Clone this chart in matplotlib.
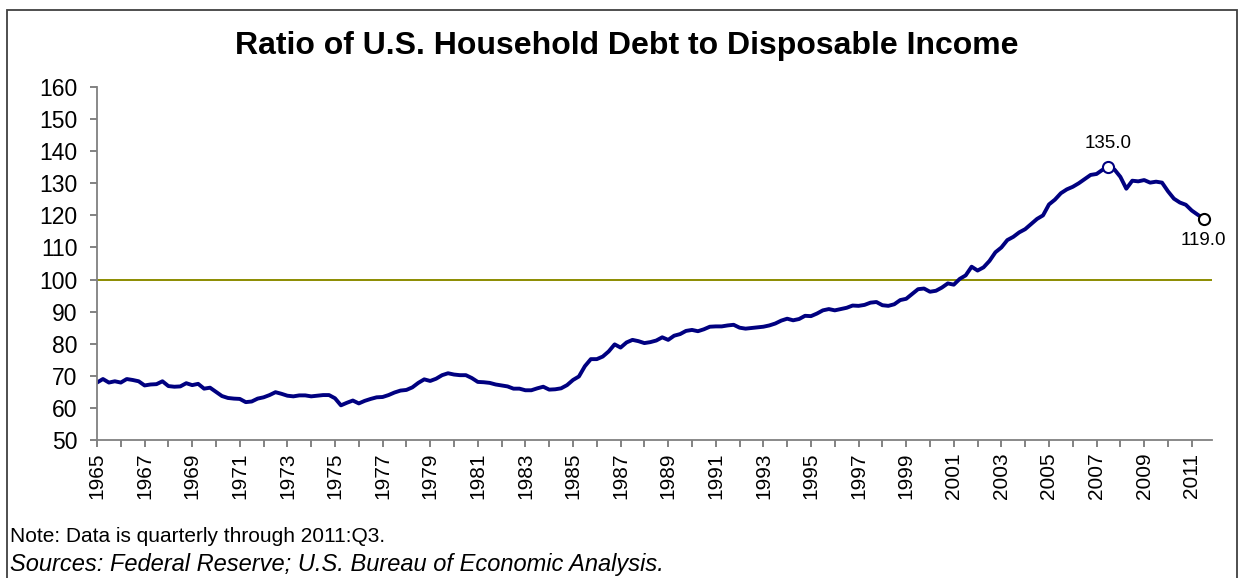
import matplotlib
matplotlib.use("Agg")
import matplotlib.pyplot as plt
import matplotlib.patches as patches
import numpy as np

plt.rcParams["font.family"] = ["Liberation Sans", "DejaVu Sans"]

# Household debt as a percent of disposable income, quarterly 1965:Q1 - 2011:Q3
start_year = 1965
ratio = [
    67.9, 69.0, 67.9, 68.3, 67.9, 69.0, 68.7, 68.3, 67.0, 67.3, 67.4, 68.3,
    66.8, 66.6, 66.7, 67.7, 67.1, 67.5, 66.0, 66.3, 65.0, 63.7, 63.1, 62.9,
    62.8, 61.8, 62.0, 62.9, 63.3, 64.0, 64.9, 64.4, 63.8, 63.6, 63.9, 63.9,
    63.6, 63.8, 64.0, 64.0, 63.0, 60.8, 61.6, 62.3, 61.4, 62.2, 62.8, 63.3,
    63.4, 64.0, 64.8, 65.4, 65.6, 66.4, 67.8, 68.9, 68.4, 69.1, 70.2, 70.8,
    70.4, 70.2, 70.2, 69.3, 68.1, 68.0, 67.8, 67.3, 67.0, 66.7, 66.0, 66.0,
    65.5, 65.5, 66.1, 66.6, 65.7, 65.8, 66.1, 67.1, 68.7, 69.8, 73.0, 75.2,
    75.2, 76.0, 77.6, 79.8, 78.8, 80.4, 81.2, 80.8, 80.2, 80.5, 81.0, 82.0,
    81.2, 82.5, 83.0, 84.0, 84.3, 83.9, 84.5, 85.3, 85.4, 85.4, 85.7, 85.9,
    85.0, 84.7, 84.9, 85.1, 85.3, 85.7, 86.3, 87.2, 87.8, 87.3, 87.7, 88.7,
    88.6, 89.4, 90.4, 90.8, 90.4, 90.8, 91.2, 91.9, 91.8, 92.1, 92.8, 93.0,
    92.0, 91.8, 92.3, 93.6, 94.0, 95.5, 97.0, 97.2, 96.2, 96.5, 97.5, 98.8,
    98.4, 100.2, 101.3, 104.0, 102.8, 103.8, 105.8, 108.5, 110.0, 112.3, 113.3, 114.7,
    115.7, 117.3, 118.9, 120.0, 123.4, 124.9, 126.9, 128.1, 128.9, 130.0, 131.3, 132.6,
    132.9, 134.2, 135.0, 134.3, 132.0, 128.3, 130.8, 130.6, 131.0, 130.2, 130.5, 130.2,
    127.5, 125.2, 124.0, 123.3, 121.5, 120.2, 119.0,
]
peak_label = "135.0"
last_label = "119.0"
reference_level = 100

quarters = start_year + np.arange(len(ratio)) / 4.0
values = np.array(ratio)
peak_idx = int(np.argmax(values))

fig = plt.figure(figsize=(12.44, 5.78), dpi=100)
fig.patch.set_facecolor("white")

# outer frame around the whole chart
fig.patches.append(patches.Rectangle(
    (7 / 1244, -0.05), 1230 / 1244, 1.05 - 10 / 578,
    transform=fig.transFigure, fill=False,
    edgecolor="#404040", linewidth=1.3, zorder=0,
))

ax = fig.add_axes([97 / 1244, 1 - 440 / 578, (1212 - 97) / 1244, (440 - 87) / 578])

ax.axhline(reference_level, color="#8c8c00", linewidth=1.4, zorder=1)
ax.plot(quarters, values, color="#000080", linewidth=2.8,
        solid_joinstyle="round", zorder=2)

# highlighted points
ax.plot(quarters[peak_idx], values[peak_idx], "o", ms=8,
        mfc="white", mec="#000080", mew=1.5, zorder=3)
ax.plot(quarters[-1], values[-1], "o", ms=8,
        mfc="white", mec="black", mew=1.5, zorder=3)
ax.annotate(peak_label, (quarters[peak_idx], values[peak_idx]),
            xytext=(0, 11), textcoords="offset points",
            ha="center", va="bottom", fontsize=13.5)
ax.annotate(last_label, (quarters[-1], values[-1]),
            xytext=(0, -10), textcoords="offset points",
            ha="center", va="top", fontsize=13.5)

ax.set_ylim(50, 160)
ax.set_yticks(np.arange(50, 161, 10))
ax.set_xlim(start_year, start_year + 187.4 / 4)
years = np.arange(start_year, 2012)
ax.set_xticks(years)
ax.set_xticklabels([str(y) if (y - start_year) % 2 == 0 else "" for y in years],
                   rotation=90)

for side in ("top", "right"):
    ax.spines[side].set_visible(False)
for side in ("left", "bottom"):
    ax.spines[side].set_color("#808080")
    ax.spines[side].set_linewidth(1.3)
ax.tick_params(axis="y", direction="out", length=5, width=1.1,
               color="#606060", labelsize=16.5, pad=9)
ax.tick_params(axis="x", direction="out", length=5, width=1.1,
               color="#606060", labelsize=15, pad=4)

fig.text(0.5 + 0.004, 1 - 46 / 578,
         "Ratio of U.S. Household Debt to Disposable Income",
         ha="center", va="center", fontsize=23, fontweight="bold")
fig.text(10 / 1244, 1 - 537 / 578,
         "Note: Data is quarterly through 2011:Q3.",
         ha="left", va="center", fontsize=15)
fig.text(10 / 1244, 1 - 564 / 578,
         "Sources: Federal Reserve; U.S. Bureau of Economic Analysis.",
         ha="left", va="center", fontsize=17, style="italic")

fig.savefig("out.png", dpi=100, facecolor="white")
